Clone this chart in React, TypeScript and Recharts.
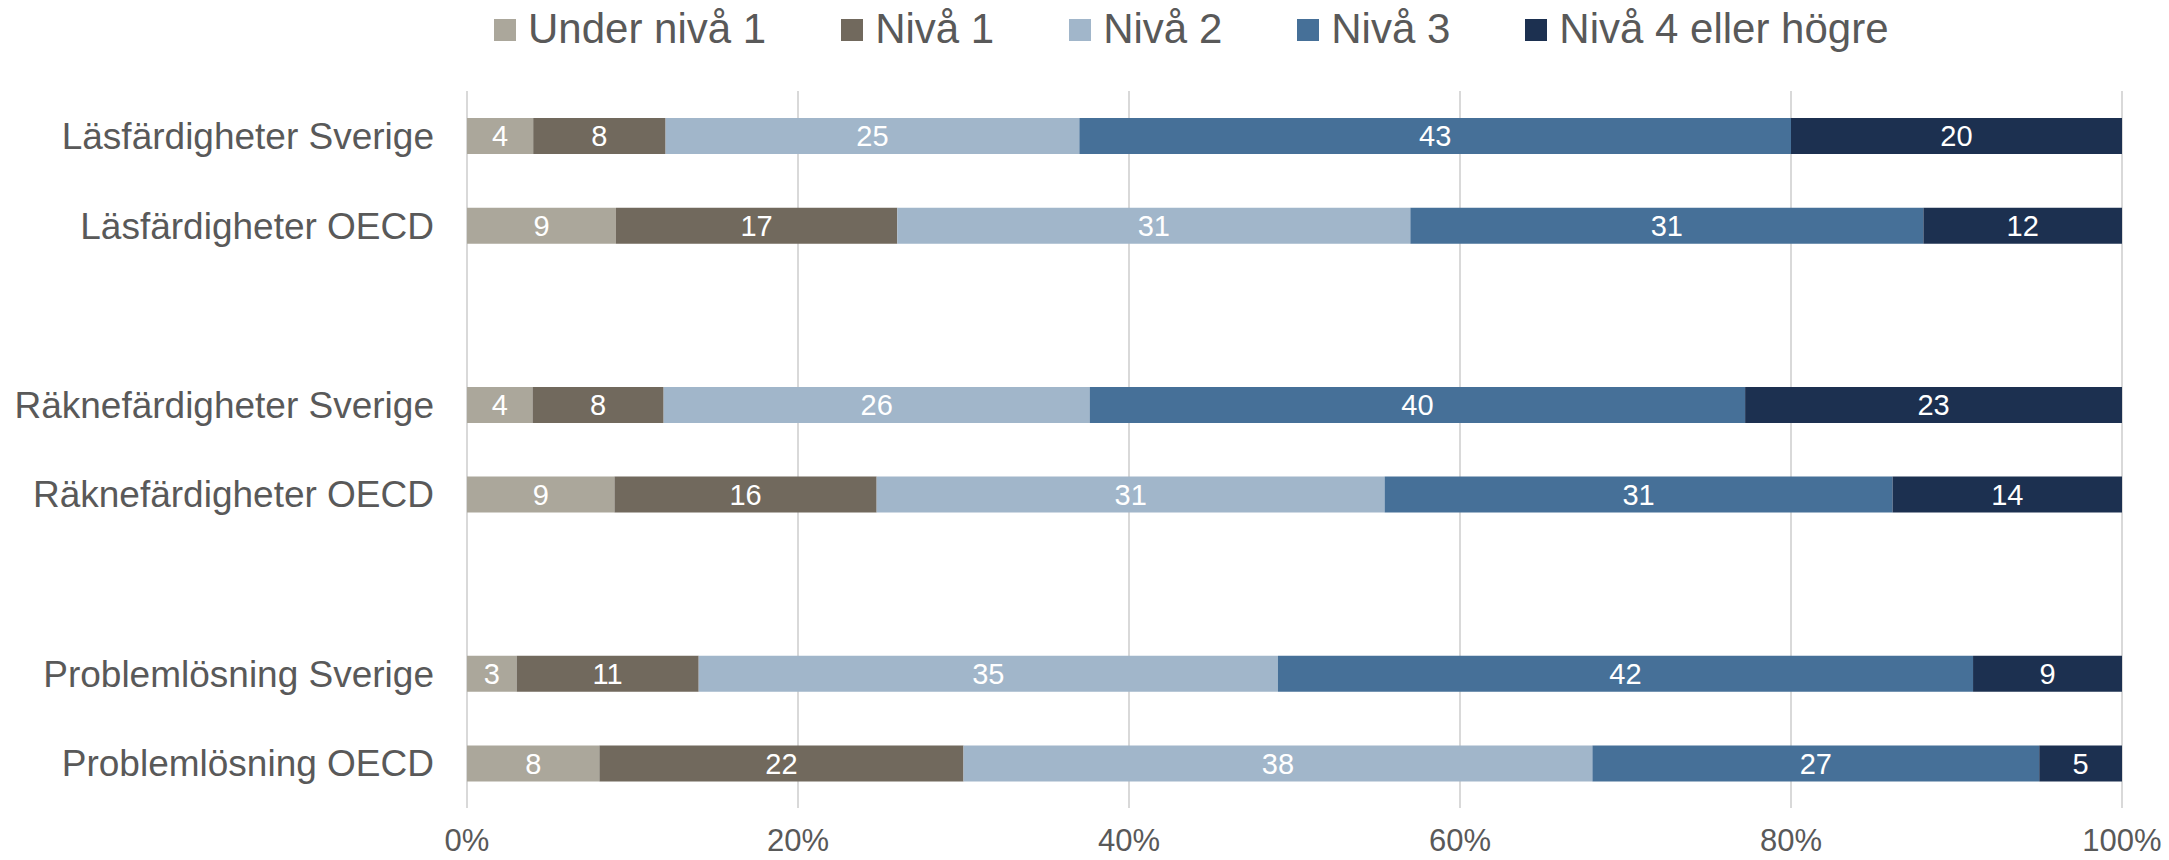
import React from "react";
import { BarChart, Bar, XAxis, YAxis, CartesianGrid, LabelList } from "recharts";

if (typeof document !== "undefined") {
  document.body.style.margin = "0";
}

const categories = [
  "Läsfärdigheter Sverige",
  "Läsfärdigheter OECD",
  "",
  "Räknefärdigheter Sverige",
  "Räknefärdigheter OECD",
  "",
  "Problemlösning Sverige",
  "Problemlösning OECD",
];

const underNiva1 = [4, 9, null, 4, 9, null, 3, 8];
const niva1 = [8, 17, null, 8, 16, null, 11, 22];
const niva2 = [25, 31, null, 26, 31, null, 35, 38];
const niva3 = [43, 31, null, 40, 31, null, 42, 27];
const niva4 = [20, 12, null, 23, 14, null, 9, 5];

const xTicks = [0, 0.2, 0.4, 0.6, 0.8, 1];

const seriesNames = ["Under nivå 1", "Nivå 1", "Nivå 2", "Nivå 3", "Nivå 4 eller högre"];
const seriesKeys = ["u1", "n1", "n2", "n3", "n4"];
const seriesColors = ["#ABA79B", "#71695D", "#A1B6CA", "#467098", "#1C3050"];

const data = categories.map((c, i) => ({
  id: "c" + i,
  name: c,
  u1: underNiva1[i],
  n1: niva1[i],
  n2: niva2[i],
  n3: niva3[i],
  n4: niva4[i],
}));

const FONT = "'Liberation Sans', Arial, sans-serif";
const TEXT = "#595959";

const LegendBlock = () => (
  <div
    style={{
      position: "absolute",
      top: 8,
      left: 494,
      display: "flex",
      alignItems: "center",
      fontFamily: FONT,
      fontSize: 42,
      lineHeight: "42px",
      color: TEXT,
      whiteSpace: "nowrap",
    }}
  >
    {seriesNames.map((n, i) => (
      <div key={n} style={{ display: "flex", alignItems: "center", marginRight: 75 }}>
        <span
          style={{
            display: "inline-block",
            width: 22,
            height: 22,
            background: seriesColors[i],
            marginRight: 12,
            marginTop: 2,
          }}
        />
        <span>{n}</span>
      </div>
    ))}
  </div>
);

const YTick = (props: any) => {
  const { x, y, payload } = props;
  const label = categories[payload.index] ?? "";
  return (
    <text x={x} y={y} dy="0.355em" textAnchor="end" fill={TEXT} fontSize={37} fontFamily={FONT}>
      {label}
    </text>
  );
};

export default function App() {
  return (
    <div style={{ position: "relative", width: 2169, height: 860, background: "#fff" }}>
      <BarChart
        width={2169}
        height={860}
        data={data}
        layout="vertical"
        stackOffset="expand"
        margin={{ top: 91, right: 47, bottom: 0, left: 0 }}
        barSize={36}
      >
        <CartesianGrid horizontal={false} vertical stroke="#D9D9D9" strokeWidth={2} />
        <XAxis
          type="number"
          domain={[0, 1]}
          ticks={xTicks}
          tickFormatter={(v: number) => Math.round(v * 100) + "%"}
          axisLine={false}
          tickLine={false}
          tickSize={0}
          tickMargin={21}
          height={52}
          interval={0}
          tick={{ fill: TEXT, fontSize: 31, fontFamily: FONT }}
        />
        <YAxis
          type="category"
          dataKey="id"
          width={467}
          axisLine={false}
          tickLine={false}
          tickSize={0}
          tickMargin={33}
          interval={0}
          tick={<YTick />}
        />
        {seriesKeys.map((k, i) => (
          <Bar
            key={k}
            dataKey={k}
            name={seriesNames[i]}
            stackId="a"
            fill={seriesColors[i]}
            isAnimationActive={false}
          >
            <LabelList
              dataKey={k}
              position="center"
              fill="#FFFFFF"
              fontSize={29}
              fontFamily={FONT}
            />
          </Bar>
        ))}
      </BarChart>
      <LegendBlock />
    </div>
  );
}
